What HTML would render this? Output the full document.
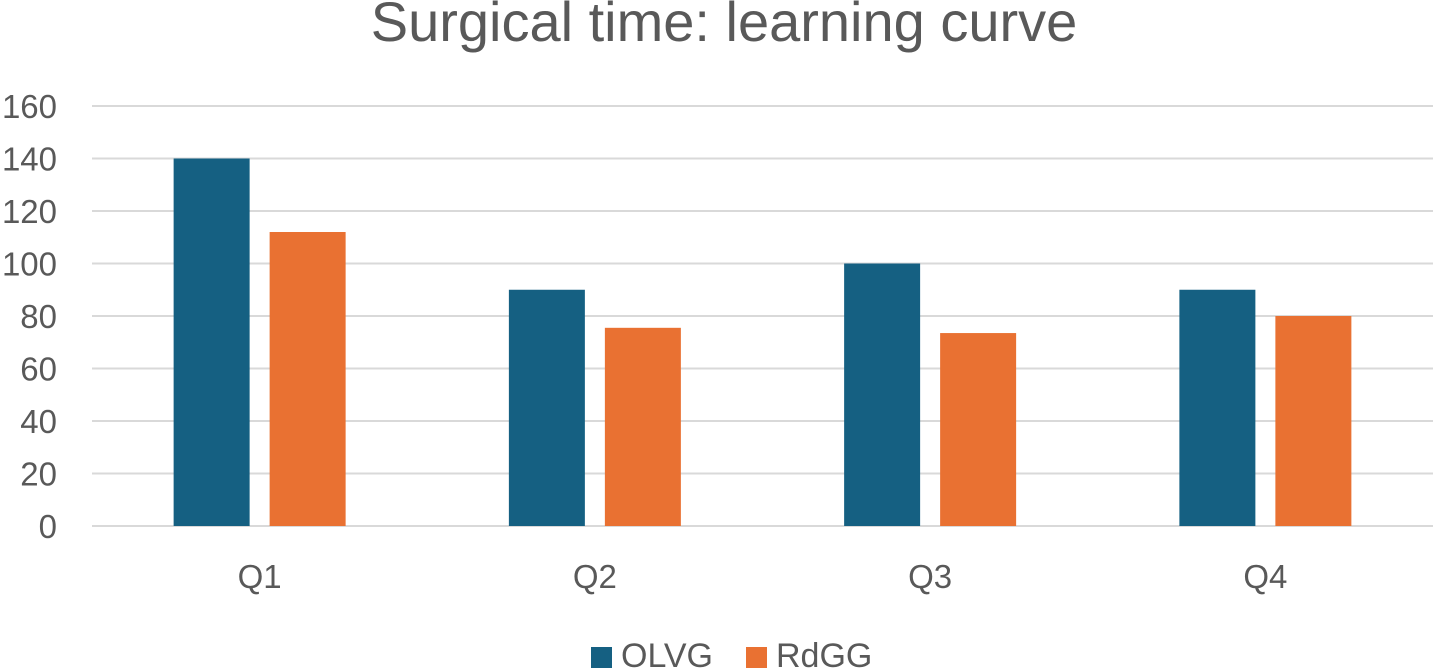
<!DOCTYPE html>
<html><head><meta charset="utf-8"><style>
body{margin:0;background:#fff;width:1436px;height:668px;overflow:hidden;font-family:"Liberation Sans",sans-serif}
</style></head><body>
<svg id="c" width="1436" height="668" style="position:absolute;left:0;top:0">
<text x="724" y="41" text-anchor="middle" font-size="56" fill="#595959">Surgical time: learning curve</text>
<g id="grid"></g><g id="bars"></g><g id="xl"></g>
<g>
<rect x="591" y="647" width="21" height="21" fill="#156082"/>
<text x="621" y="667" font-size="34" fill="#595959">OLVG</text>
<rect x="746" y="647" width="21" height="21" fill="#E97132"/>
<text x="776" y="667" font-size="34" fill="#595959">RdGG</text>
</g>
</svg>
<script>
const categories=["Q1","Q2","Q3","Q4"];
const olvg=[140,90,100,90];
const rdgg=[112,75.5,73.5,80];
const ticks=[0,20,40,60,80,100,120,140,160];
const NS="http://www.w3.org/2000/svg";
const x0=92,x1=1433,y0=526,yTop=106,maxV=160;
const y=v=>y0-(v/maxV)*(y0-yTop);
const band=(x1-x0)/categories.length;
function mk(t,a,p){const e=document.createElementNS(NS,t);for(const k in a)e.setAttribute(k,a[k]);p.appendChild(e);return e;}
const g=document.getElementById('grid');
ticks.forEach(t=>{
 const l=mk('line',{x1:x0,x2:x1,y1:y(t),y2:y(t),stroke:'#d9d9d9','stroke-width':2},g);
 
 
 const tx=mk('text',{x:57,y:y(t)+12,'text-anchor':'end','font-size':33,fill:'#595959'},g);
 tx.textContent=t;
 
 
});
const b=document.getElementById('bars'),xl=document.getElementById('xl');
const bw=76,gap=20;
categories.forEach((c,i)=>{
 const cx=x0+band*(i+0.5);
 const r1=mk('rect',{x:cx-gap/2-bw,y:y(olvg[i]),width:bw,height:y0-y(olvg[i]),fill:'#156082'},b);
 
 
 const r2=mk('rect',{x:cx+gap/2,y:y(rdgg[i]),width:bw,height:y0-y(rdgg[i]),fill:'#E97132'},b);
 
 
 const t=mk('text',{x:cx,y:588,'text-anchor':'middle','font-size':33,fill:'#595959'},xl);
 t.textContent=c;
 
 
});
</script>
</body></html>
